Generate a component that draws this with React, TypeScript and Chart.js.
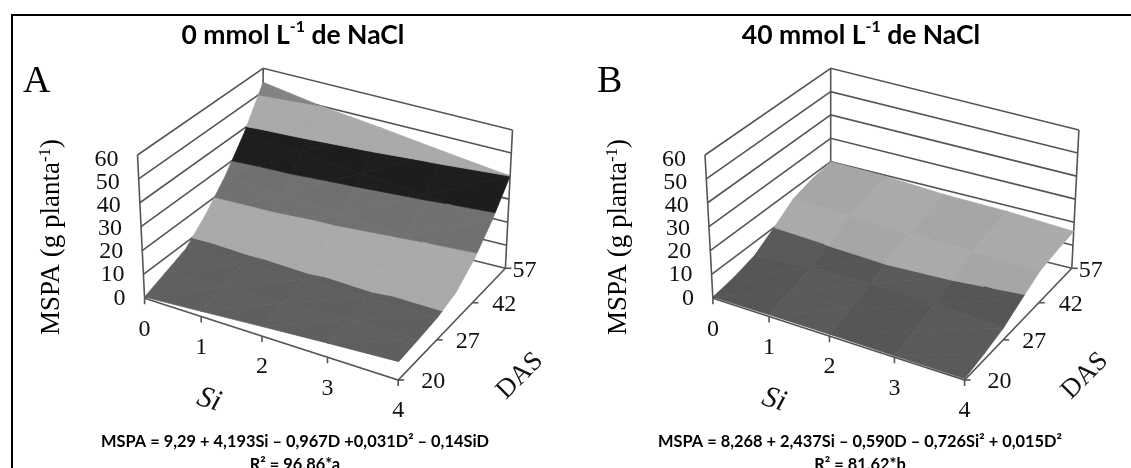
import React, { useEffect, useRef } from "react";
import { Chart, registerables } from "chart.js";

Chart.register(...registerables);

// ---------- data ----------
const SI_TICKS = [0, 1, 2, 3, 4];
const DAS_TICKS = [20, 27, 42, 57];
const MSPA_TICKS = [0, 10, 20, 30, 40, 50, 60];

const DAS_ROWS_A = [20, 23.5, 27, 34.5, 42, 49.5, 57];
const MSPA_A_SI0 = [0.5, 4, 7.5, 15.5, 25.5, 38, 54];
const MSPA_A_SI1 = [2.2, 5.2, 8.2, 15, 24.5, 36, 50];
const MSPA_A_SI2 = [4, 6.3, 8.8, 14.5, 22.5, 33.5, 47];
const MSPA_A_SI3 = [5.8, 7.3, 9.2, 13.2, 20.5, 31, 43.5];
const MSPA_A_SI4 = [7.5, 8.3, 9.3, 12, 18.5, 28, 40];

const DAS_ROWS_B = [20, 23.5, 27, 34.5, 42, 49.5, 57];
const MSPA_B_SI0 = [0.5, 2, 4.5, 10, 16, 18.5, 20];
const MSPA_B_SI1 = [0.8, 3.3, 6.5, 10.6, 15, 17.5, 19.5];
const MSPA_B_SI2 = [0.8, 3.6, 7, 11, 14.5, 16.5, 18];
const MSPA_B_SI3 = [0.6, 3.2, 6.5, 10.5, 14, 16, 17.5];
const MSPA_B_SI4 = [0.5, 2.5, 5, 9.4, 13.5, 15, 16];

const BANDS_A = ["#5f5f5f", "#a9a9a9", "#707070", "#1d1d1d", "#a9a9a9", "#828282"];
const BANDS_B = ["#585858", "#a8a8a8"];

const TITLE_A = ["0 mmol L", "-1", " de NaCl"];
const TITLE_B = ["40 mmol L", "-1", " de NaCl"];
const EQ_A = ["MSPA = 9,29 + 4,193Si – 0,967D +0,031D² – 0,14SiD", "R² = 96,86*a"];
const EQ_B = ["MSPA = 8,268 + 2,437Si – 0,590D – 0,726Si² + 0,015D²", "R² = 81,62*b"];

type P = [number, number];
const W = 565;
const H = 468;

function quad(p00: P, p10: P, p11: P, p01: P) {
  const dx1 = p10[0] - p11[0], dx2 = p01[0] - p11[0], sx = p00[0] - p10[0] + p11[0] - p01[0];
  const dy1 = p10[1] - p11[1], dy2 = p01[1] - p11[1], sy = p00[1] - p10[1] + p11[1] - p01[1];
  const den = dx1 * dy2 - dx2 * dy1;
  const g = (sx * dy2 - dx2 * sy) / den;
  const h = (dx1 * sy - sx * dy1) / den;
  const a = p10[0] - p00[0] + g * p10[0], b = p01[0] - p00[0] + h * p01[0], c = p00[0];
  const d = p10[1] - p00[1] + g * p10[1], e = p01[1] - p00[1] + h * p01[1], f = p00[1];
  return (s: number, t: number): P => {
    const w = g * s + h * t + 1;
    return [(a * s + b * t + c) / w, (d * s + e * t + f) / w];
  };
}

function dasToU(d: number) {
  for (let i = 0; i < DAS_TICKS.length - 1; i++) {
    if (d <= DAS_TICKS[i + 1]) {
      return (i + (d - DAS_TICKS[i]) / (DAS_TICKS[i + 1] - DAS_TICKS[i])) / (DAS_TICKS.length - 1);
    }
  }
  return 1;
}

type V = [number, number, number];

function clipZ(poly: V[], z: number, keepAbove: boolean): V[] {
  const out: V[] = [];
  const inside = (v: V) => (keepAbove ? v[2] >= z : v[2] <= z);
  for (let i = 0; i < poly.length; i++) {
    const a = poly[i], b = poly[(i + 1) % poly.length];
    if (inside(a)) out.push(a);
    if (inside(a) !== inside(b)) {
      const k = (z - a[2]) / (b[2] - a[2]);
      out.push([a[0] + (b[0] - a[0]) * k, a[1] + (b[1] - a[1]) * k, z]);
    }
  }
  return out;
}

function tint(hex: string, amt: number) {
  const n = parseInt(hex.slice(1), 16);
  const c = (v: number) => Math.max(0, Math.min(255, v + amt));
  return `rgb(${c((n >> 16) & 255)},${c((n >> 8) & 255)},${c(n & 255)})`;
}

interface PanelCfg {
  frameFloor: [P, P, P, P];
  frameTop: [P, P, P, P];
  rows: number[];
  columns: number[][];
  bands: string[];
  title: string[];
  eq: string[];
  letter: string;
  letterX: number;
  titleX: number;
  zTitleX: number;
  cellTint: number;
  triTint: number;
}

const LINE = "#555555";
const SERIF = '"Liberation Serif", serif';
const SANS = 'Lato, "Open Sans", sans-serif';

function buildPanel(canvas: HTMLCanvasElement, cfg: PanelCfg) {
  const floor = quad(...cfg.frameFloor);
  const top = quad(...cfg.frameTop);
  const project = (si: number, u: number, z: number) => {
    const a = floor(si / 4, u), b = top(si / 4, u), k = z / 60;
    return { x: a[0] + (b[0] - a[0]) * k, y: a[1] + (b[1] - a[1]) * k };
  };
  const datasets: any[] = [];
  const seg = (pts: { x: number; y: number }[], width = 1.6) =>
    datasets.push({ data: pts, showLine: true, borderColor: LINE, borderWidth: width, pointRadius: 0, fill: false, tension: 0 });

  // walls and floor edges
  for (const z of MSPA_TICKS) {
    seg([project(0, 0, z), project(0, 1, z), project(4, 1, z)]);
  }
  seg([project(0, 0, 0), project(0, 0, 60)]);
  seg([project(0, 1, 0), project(0, 1, 60)]);
  seg([project(4, 1, 0), project(4, 1, 60)]);
  seg([project(0, 0, 0), project(4, 0, 0), project(4, 1, 0)]);
  // tick marks
  for (const s of SI_TICKS) {
    const p = project(s, 0, 0);
    seg([p, { x: p.x, y: p.y + 6 }]);
  }
  for (const d of DAS_TICKS) {
    const p = project(4, dasToU(d), 0);
    seg([p, { x: p.x + 6, y: p.y }]);
  }

  // surface: one filled polygon per band piece, back rows first
  const nr = cfg.rows.length;
  for (let r = nr - 2; r >= 0; r--) {
    for (let c = 0; c < cfg.columns.length - 1; c++) {
      const u0 = dasToU(cfg.rows[r]), u1 = dasToU(cfg.rows[r + 1]);
      const v00: V = [SI_TICKS[c], u0, cfg.columns[c][r]];
      const v10: V = [SI_TICKS[c + 1], u0, cfg.columns[c + 1][r]];
      const v11: V = [SI_TICKS[c + 1], u1, cfg.columns[c + 1][r + 1]];
      const v01: V = [SI_TICKS[c], u1, cfg.columns[c][r + 1]];
      const tris: V[][] = [[v00, v10, v11], [v00, v11, v01]];
      tris.forEach((tri, ti) => {
        cfg.bands.forEach((col, b) => {
          let poly = clipZ(tri, b * 10, true);
          if (poly.length) poly = clipZ(poly, (b + 1) * 10, false);
          if (poly.length < 3) return;
          const cell = Math.floor(r / 2) + c;
          const shade = tint(col, (cell % 2 ? cfg.cellTint : -cfg.cellTint) + (ti ? cfg.triTint : 0));
          const pts = poly.map((v) => project(v[0], v[1], v[2]));
          datasets.push({
            data: [...pts, pts[0]],
            showLine: true,
            fill: "shape",
            backgroundColor: shade,
            borderColor: shade,
            borderWidth: 0.7,
            pointRadius: 0,
            tension: 0,
          });
        });
      });
    }
  }
  datasets.forEach((d, i) => (d.order = datasets.length - i));

  const textPlugin = {
    id: "panelText",
    afterDraw(chart: any) {
      const ctx: CanvasRenderingContext2D = chart.ctx;
      const sx = (v: number) => chart.scales.x.getPixelForValue(v);
      const sy = (v: number) => chart.scales.y.getPixelForValue(v);
      const text = (s: string, x: number, y: number, font: string, align: CanvasTextAlign = "center", rot = 0, color = "#111") => {
        ctx.save();
        ctx.translate(sx(x), sy(y));
        ctx.rotate(rot);
        ctx.font = font;
        ctx.fillStyle = color;
        ctx.textAlign = align;
        ctx.textBaseline = "middle";
        ctx.fillText(s, 0, 0);
        ctx.restore();
      };
      // text run with a superscript in the middle
      const sup = (parts: string[], x: number, y: number, font: string, supFont: string, supDy: number, rot = 0) => {
        ctx.save();
        ctx.translate(sx(x), sy(y));
        ctx.rotate(rot);
        ctx.fillStyle = "#000";
        ctx.textBaseline = "middle";
        ctx.textAlign = "left";
        ctx.font = font;
        const w0 = ctx.measureText(parts[0]).width;
        const w2 = ctx.measureText(parts[2]).width;
        ctx.font = supFont;
        const w1 = ctx.measureText(parts[1]).width;
        let cx = -(w0 + w1 + w2) / 2;
        ctx.font = font;
        ctx.fillText(parts[0], cx, 0);
        cx += w0;
        ctx.font = supFont;
        ctx.fillText(parts[1], cx, supDy);
        cx += w1;
        ctx.font = font;
        ctx.fillText(parts[2], cx, 0);
        ctx.restore();
      };

      sup(cfg.title, cfg.titleX, 35, `bold 26.5px ${SANS}`, `bold 16px ${SANS}`, -8);
      text(cfg.letter, cfg.letterX, 82, `38px ${SERIF}`, "left", 0, "#000");

      const tickFont = `24px ${SERIF}`;
      for (const z of MSPA_TICKS) {
        const p = project(0, 0, z);
        text(String(z), p.x - 19, p.y + (4.5 * z) / 60, tickFont, "right");
      }
      for (const s of SI_TICKS) {
        const p = project(s, 0, 0);
        text(String(s), p.x, p.y + 31, tickFont);
      }
      const dasDx = [23, 19, 20, 7];
      DAS_TICKS.forEach((d, i) => {
        const p = project(4, dasToU(d), 0);
        text(String(d), p.x + dasDx[i], p.y + 2, tickFont, "left");
      });
      sup(["MSPA (g planta", "-1", ")"], cfg.zTitleX, 237, `27px ${SERIF}`, `17px ${SERIF}`, -6, -Math.PI / 2);
      text("Si", 209, 400, `italic 30px ${SERIF}`, "center", (18 * Math.PI) / 180);
      text("DAS", 520, 376, `27px ${SERIF}`, "center", -Math.PI / 4);

      text(cfg.eq[0], 295, 442, `bold 16.4px ${SANS}`, "center", 0, "#000");
      text(cfg.eq[1], 295, 465, `bold 16.4px ${SANS}`, "center", 0, "#000");
    },
  };

  return new Chart(canvas, {
    type: "scatter",
    data: { datasets },
    options: {
      animation: false,
      responsive: false,
      maintainAspectRatio: false,
      devicePixelRatio: 1,
      layout: { padding: 0 },
      events: [],
      plugins: { legend: { display: false }, tooltip: { enabled: false }, title: { display: false } },
      scales: {
        x: { type: "linear", min: 0, max: W, display: false },
        y: { type: "linear", min: 0, max: H, reverse: true, display: false },
      },
    } as any,
    plugins: [textPlugin],
  });
}

const PANEL_A: PanelCfg = {
  frameFloor: [[144.6, 298.3], [398.2, 380], [505.4, 268.3], [262.5, 208.3]],
  frameTop: [[137.5, 155], [401.8, 233], [512.5, 130], [263.2, 68.3]],
  rows: DAS_ROWS_A,
  columns: [MSPA_A_SI0, MSPA_A_SI1, MSPA_A_SI2, MSPA_A_SI3, MSPA_A_SI4],
  bands: BANDS_A,
  title: TITLE_A,
  eq: EQ_A,
  letter: "A",
  letterX: 23,
  titleX: 293,
  zTitleX: 52,
  cellTint: 0,
  triTint: 1,
};

const PANEL_B: PanelCfg = {
  frameFloor: [[147.9, 298.3], [399.6, 380], [506.8, 268.3], [265.7, 208.3]],
  frameTop: [[140, 155], [403, 233], [513.9, 130], [265.7, 68.3]],
  rows: DAS_ROWS_B,
  columns: [MSPA_B_SI0, MSPA_B_SI1, MSPA_B_SI2, MSPA_B_SI3, MSPA_B_SI4],
  bands: BANDS_B,
  title: TITLE_B,
  eq: EQ_B,
  letter: "B",
  letterX: 32,
  titleX: 296,
  zTitleX: 54,
  cellTint: 2,
  triTint: 0,
};

const canvasStyle = { position: "absolute", top: 0, width: W, height: H, filter: "blur(0.45px)" } as const;

export default function App() {
  const a = useRef<HTMLCanvasElement>(null);
  const b = useRef<HTMLCanvasElement>(null);
  useEffect(() => {
    const ca = buildPanel(a.current!, PANEL_A);
    const cb = buildPanel(b.current!, PANEL_B);
    return () => {
      ca.destroy();
      cb.destroy();
    };
  }, []);
  return (
    <div style={{ position: "absolute", left: 0, top: 0, width: 1131, height: 468, overflow: "hidden", background: "#fff" }}>
      <canvas ref={a} width={W} height={H} style={{ ...canvasStyle, left: 0 }} />
      <canvas ref={b} width={W} height={H} style={{ ...canvasStyle, left: 565 }} />
      <div style={{ position: "absolute", left: 11, top: 14, width: 1122, height: 470, borderLeft: "2px solid #000", borderTop: "2px solid #000" }} />
    </div>
  );
}
